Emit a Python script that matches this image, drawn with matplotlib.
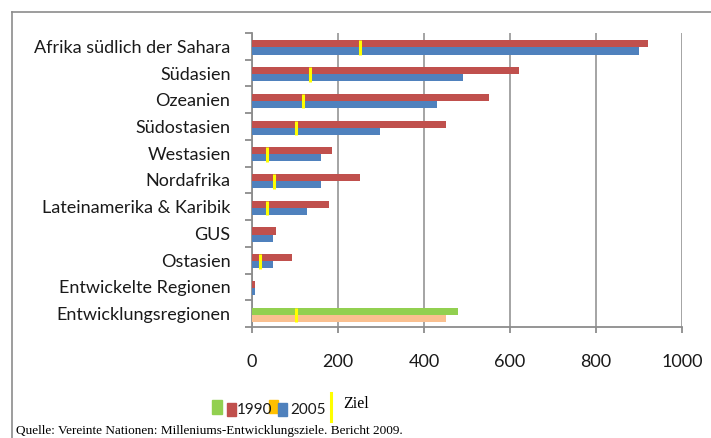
import matplotlib
matplotlib.use("Agg")
import matplotlib.pyplot as plt
from matplotlib.lines import Line2D
from matplotlib.patches import Rectangle
import numpy as np

categories = ["Afrika südlich der Sahara", "Südasien", "Ozeanien", "Südostasien",
              "Westasien", "Nordafrika", "Lateinamerika & Karibik", "GUS",
              "Ostasien", "Entwickelte Regionen", "Entwicklungsregionen"]
values_1990 = [920, 620, 550, 450, 186, 250, 180, 56, 92, 7, 480]
values_2005 = [900, 490, 430, 297, 160, 160, 128, 48, 48, 7, 450]
ziel = [250, 135, 118, 103, 36, 52, 36, None, 19, None, 103]
xticks = [0, 200, 400, 600, 800, 1000]
series_names = ["1990", "2005", "Ziel"]
source = "Quelle: Vereinte Nationen: Milleniums-Entwicklungsziele. Bericht 2009."

RED, BLUE = "#C0504D", "#4F81BD"
GREEN, PEACH, ORANGE = "#92D050", "#FAC090", "#FFC000"
YELLOW = "#FFFF00"
GRAY = "#8C8C8C"
TXT = "#1a1a1a"

W, H = 711, 438
fig = plt.figure(figsize=(W / 100, H / 100), dpi=100)
ax = fig.add_axes([252 / W, 1 - 327 / H, (682 - 252) / W, (327 - 33) / H])

n = len(categories)
y = np.arange(n)
bh = 0.265
red_off = -0.5 + 0.275 + bh / 2
blue_off = -0.5 + 0.54 + bh / 2
c1990 = [RED] * (n - 1) + [GREEN]
c2005 = [BLUE] * (n - 1) + [PEACH]
ax.barh(y + red_off, values_1990, height=bh, color=c1990, zorder=3)
ax.barh(y + blue_off, values_2005, height=bh, color=c2005, zorder=3)

zy = [i for i, v in enumerate(ziel) if v is not None]
zx = [ziel[i] for i in zy]
zy = np.array(zy)
ax.vlines(zx, zy - 0.5 + 0.275, zy - 0.5 + 0.82, colors=YELLOW, linewidth=2.2, zorder=4)

ax.set_xlim(0, 1000)
ax.set_ylim(n - 0.5, -0.5)
ax.set_xticks(xticks)
ax.set_xticklabels([str(t) for t in xticks])
ax.set_yticks(y)
ax.set_yticklabels(categories)
ax.set_yticks(np.arange(n + 1) - 0.5, minor=True)

for s in ["top", "right"]:
    ax.spines[s].set_visible(False)
for s in ["left", "bottom"]:
    ax.spines[s].set_color(GRAY)
    ax.spines[s].set_linewidth(1.3)
ax.grid(axis="x", color=GRAY, linewidth=1.1, zorder=0)
ax.set_axisbelow(True)

ax.tick_params(axis="y", which="major", length=0, pad=15.5, labelsize=13, labelcolor=TXT)
ax.tick_params(axis="y", which="minor", length=5, width=1.3, color=GRAY)
ax.tick_params(axis="x", which="major", length=4.3, width=1.3, color=GRAY, pad=15, labelsize=13, labelcolor=TXT)
for lab in ax.get_yticklabels() + ax.get_xticklabels():
    lab.set_fontfamily("Lato")

# outer frame
fig.add_artist(Line2D([12 / W, 12 / W], [0, 1 - 12 / H], color=GRAY, linewidth=1.2))
fig.add_artist(Line2D([12 / W, 1], [1 - 12 / H, 1 - 12 / H], color=GRAY, linewidth=1.2))

# legend
def rect(x0, y0, w, h, c):
    fig.add_artist(Rectangle((x0 / W, 1 - (y0 + h) / H), w / W, h / H, color=c))

rect(212, 400, 10, 14, GREEN)
rect(227, 403, 9, 13, RED)
fig.text(237 / W, 1 - 410 / H, series_names[0], fontsize=11, family="Lato", va="center", color=TXT)
rect(269, 400, 9, 13, ORANGE)
rect(278, 403, 9, 13, BLUE)
fig.text(290 / W, 1 - 410 / H, series_names[1], fontsize=11, family="Lato", va="center", color=TXT)
fig.add_artist(Line2D([331 / W, 331 / W], [1 - 421 / H, 1 - 393 / H], color=YELLOW, linewidth=2.2))
fig.text(343 / W, 1 - 404 / H, series_names[2], fontsize=11.5, family="Liberation Serif", va="center", color="black")

fig.text(16 / W, 1 - 431 / H, source, fontsize=9.5, family="Liberation Serif", va="center", color="black")

fig.savefig("out.png", dpi=100)
